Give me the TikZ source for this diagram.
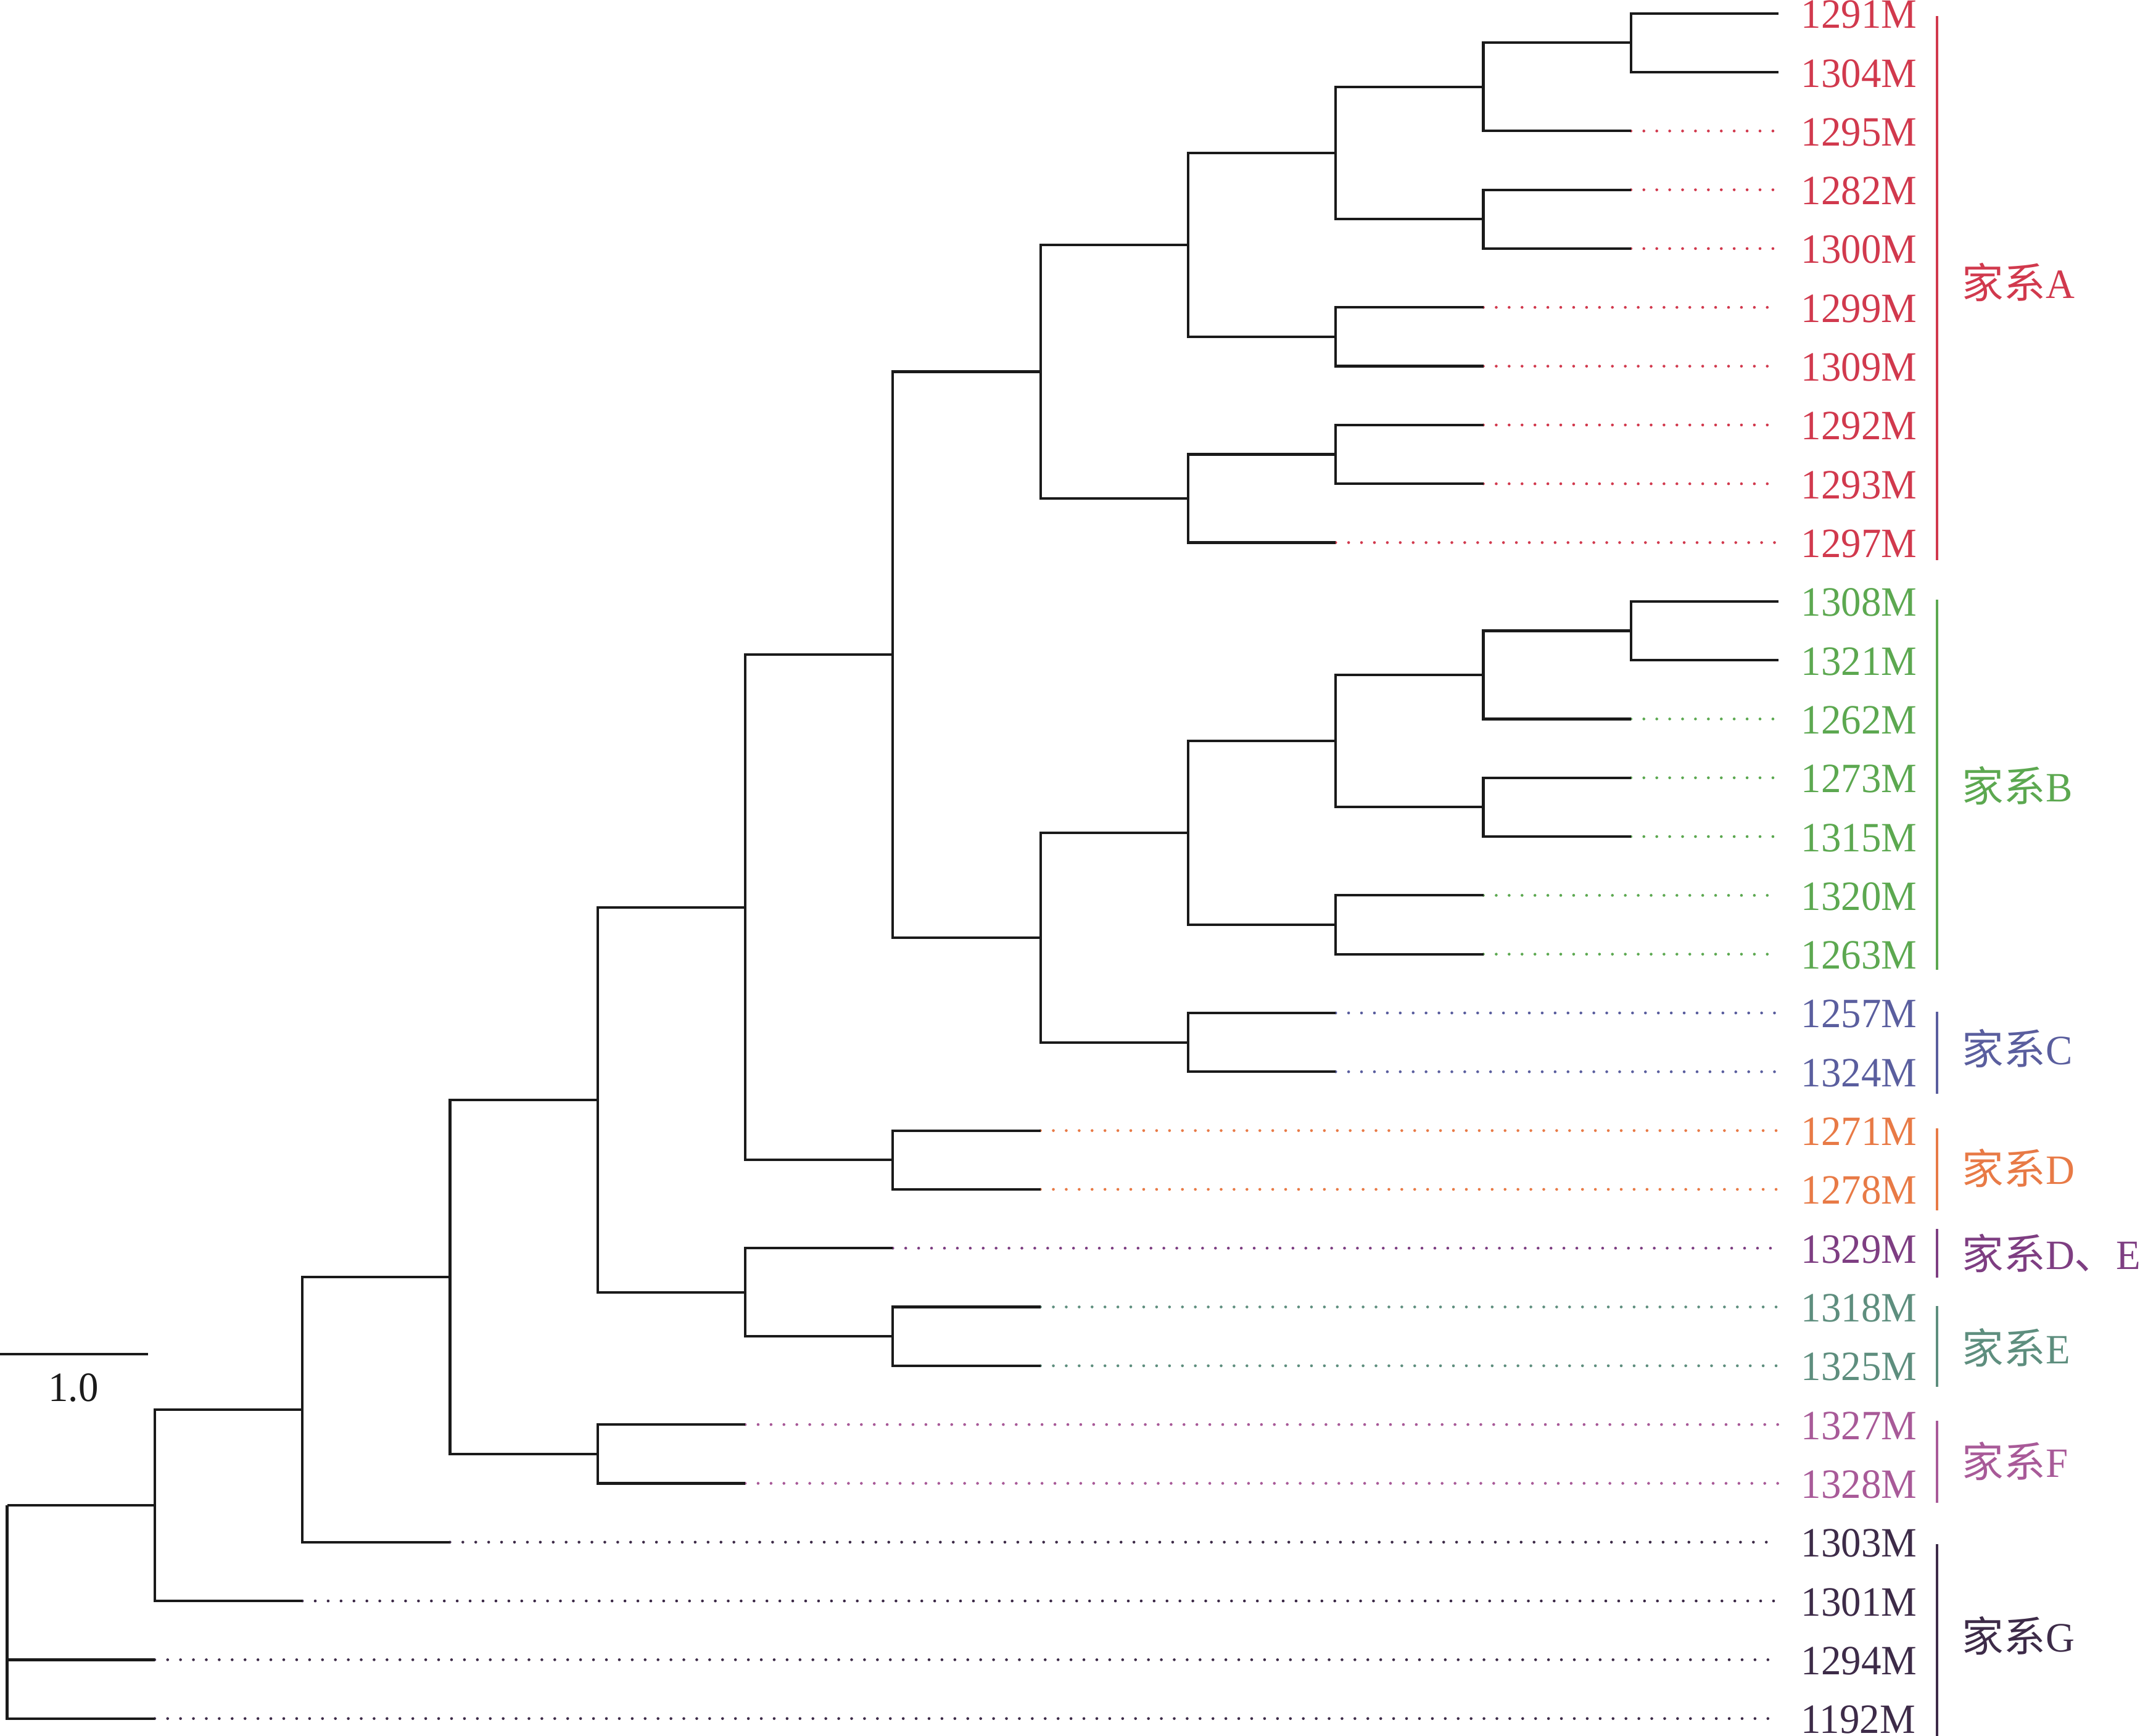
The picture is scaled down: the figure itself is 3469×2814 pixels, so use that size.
\documentclass[tikz,border=0pt]{standalone}
\usepackage{fontspec}
\setmainfont{Liberation Serif}[FakeStretch=0.96]
\newfontfamily\cjk{Noto Sans CJK SC}
\newcommand\labfont{\fontsize{16.9}{20}\selectfont}
\definecolor{ink}{HTML}{1A1A1A}
\definecolor{cA}{HTML}{D1394D}
\definecolor{cB}{HTML}{5CA850}
\definecolor{cC}{HTML}{5A5E9E}
\definecolor{cD}{HTML}{E87A46}
\definecolor{cDE}{HTML}{7E3E82}
\definecolor{cE}{HTML}{5E8E7E}
\definecolor{cF}{HTML}{A85A98}
\definecolor{cG}{HTML}{3D2B48}
\begin{document}
\begin{tikzpicture}[x=0.25pt,y=-0.25pt,
  declare function={lx(\l)=11.5+239.3*\l; ly(\i)=21.7+95.31*\i;},
  branch/.style={draw=ink,line width=1.05pt},
  dotline/.style={line width=1.15pt,line cap=round,dash pattern=on 0pt off 5.23pt},
  leaflabel/.style={anchor=base west,inner sep=0pt,font=\labfont},
  grouplabel/.style={anchor=base west,inner sep=0pt,font=\labfont},
  groupbar/.style={line width=0.9pt}]
\useasboundingbox (0,0) rectangle (3469,2814);

% leaves: index / label / colour / level of parent
\foreach \i/\t/\c/\p in {
  0/1291M/cA/11, 1/1304M/cA/11, 2/1295M/cA/10, 3/1282M/cA/10, 4/1300M/cA/10,
  5/1299M/cA/9, 6/1309M/cA/9, 7/1292M/cA/9, 8/1293M/cA/9, 9/1297M/cA/8,
  10/1308M/cB/11, 11/1321M/cB/11, 12/1262M/cB/10, 13/1273M/cB/10, 14/1315M/cB/10,
  15/1320M/cB/9, 16/1263M/cB/9, 17/1257M/cC/8, 18/1324M/cC/8,
  19/1271M/cD/6, 20/1278M/cD/6, 21/1329M/cDE/5, 22/1318M/cE/6, 23/1325M/cE/6,
  24/1327M/cF/4, 25/1328M/cF/4, 26/1303M/cG/2, 27/1301M/cG/1, 28/1294M/cG/0, 29/1192M/cG/0} {
  \coordinate (L\i) at ({lx(12)},{ly(\i)});
  \pgfmathtruncatemacro\q{\p+1}
  \coordinate (E\i) at ({lx(\q)},{ly(\i)});
  \ifnum\p<11 \draw[dotline,\c] (E\i) -- (L\i); \fi
  \node[leaflabel,text=\c] (T\i) at (2919,{ly(\i)+24}) {\t};
}

% internal nodes
\coordinate (a1)   at ({lx(11)},{ly(0.5)});
\coordinate (a2)   at ({lx(10)},{ly(1.25)});
\coordinate (a3)   at ({lx(10)},{ly(3.5)});
\coordinate (a4)   at ({lx(9)},{ly(2.375)});
\coordinate (a5)   at ({lx(9)},{ly(5.5)});
\coordinate (a6)   at ({lx(8)},{ly(3.9375)});
\coordinate (a7)   at ({lx(9)},{ly(7.5)});
\coordinate (a8)   at ({lx(8)},{ly(8.25)});
\coordinate (nA)   at ({lx(7)},{ly(6.09375)});
\coordinate (b1)   at ({lx(11)},{ly(10.5)});
\coordinate (b2)   at ({lx(10)},{ly(11.25)});
\coordinate (b3)   at ({lx(10)},{ly(13.5)});
\coordinate (b4)   at ({lx(9)},{ly(12.375)});
\coordinate (b5)   at ({lx(9)},{ly(15.5)});
\coordinate (b6)   at ({lx(8)},{ly(13.9375)});
\coordinate (nc)   at ({lx(8)},{ly(17.5)});
\coordinate (bc)   at ({lx(7)},{ly(15.71875)});
\coordinate (abc)  at ({lx(6)},{ly(10.90625)});
\coordinate (nd)   at ({lx(6)},{ly(19.5)});
\coordinate (abcd) at ({lx(5)},{ly(15.203125)});
\coordinate (ne)   at ({lx(6)},{ly(22.5)});
\coordinate (de)   at ({lx(5)},{ly(21.75)});
\coordinate (n5)   at ({lx(4)},{ly(18.4765625)});
\coordinate (nf)   at ({lx(4)},{ly(24.5)});
\coordinate (n6)   at ({lx(3)},{ly(21.48828125)});
\coordinate (n7)   at ({lx(2)},{ly(23.744140625)});
\coordinate (n8)   at ({lx(1)},{ly(25.3720703)});
\coordinate (root) at ({lx(0)},{ly(25.3720703)});

% branches
\draw[branch]
  (a1) |- (E0)  (a1) |- (E1)
  (a2) |- (a1)  (a2) |- (E2)
  (a3) |- (E3)  (a3) |- (E4)
  (a4) |- (a2)  (a4) |- (a3)
  (a5) |- (E5)  (a5) |- (E6)
  (a6) |- (a4)  (a6) |- (a5)
  (a7) |- (E7)  (a7) |- (E8)
  (a8) |- (a7)  (a8) |- (E9)
  (nA) |- (a6)  (nA) |- (a8)
  (b1) |- (E10) (b1) |- (E11)
  (b2) |- (b1)  (b2) |- (E12)
  (b3) |- (E13) (b3) |- (E14)
  (b4) |- (b2)  (b4) |- (b3)
  (b5) |- (E15) (b5) |- (E16)
  (b6) |- (b4)  (b6) |- (b5)
  (nc) |- (E17) (nc) |- (E18)
  (bc) |- (b6)  (bc) |- (nc)
  (abc) |- (nA) (abc) |- (bc)
  (nd) |- (E19) (nd) |- (E20)
  (abcd) |- (abc) (abcd) |- (nd)
  (ne) |- (E22) (ne) |- (E23)
  (de) |- (E21) (de) |- (ne)
  (n5) |- (abcd) (n5) |- (de)
  (nf) |- (E24) (nf) |- (E25)
  (n6) |- (n5)  (n6) |- (nf)
  (n7) |- (n6)  (n7) |- (E26)
  (n8) |- (n7)  (n8) |- (E27)
  (root) -- (n8) (root) |- (E28) (root) |- (E29);

% group bars
\coordinate (gAt) at (3140,26);   \coordinate (gAb) at (3140,908);
\coordinate (gBt) at (3140,972);  \coordinate (gBb) at (3140,1572);
\coordinate (gCt) at (3140,1640); \coordinate (gCb) at (3140,1773);
\coordinate (gDt) at (3140,1829); \coordinate (gDb) at (3140,1962);
\coordinate (gXt) at (3140,1992); \coordinate (gXb) at (3140,2071);
\coordinate (gEt) at (3140,2117); \coordinate (gEb) at (3140,2248);
\coordinate (gFt) at (3140,2303); \coordinate (gFb) at (3140,2436);
\coordinate (gGt) at (3140,2503); \coordinate (gGb) at (3140,2814);
\draw[groupbar,cA] (gAt) -- (gAb);
\draw[groupbar,cB] (gBt) -- (gBb);
\draw[groupbar,cC] (gCt) -- (gCb);
\draw[groupbar,cD] (gDt) -- (gDb);
\draw[groupbar,cDE] (gXt) -- (gXb);
\draw[groupbar,cE] (gEt) -- (gEb);
\draw[groupbar,cF] (gFt) -- (gFb);
\draw[groupbar,cG] (gGt) -- (gGb);

% group labels
\node[grouplabel,text=cA]  (GA) at (3180,484)  {{\cjk 家系}A};
\node[grouplabel,text=cB]  (GB) at (3180,1299) {{\cjk 家系}B};
\node[grouplabel,text=cC]  (GC) at (3180,1725) {{\cjk 家系}C};
\node[grouplabel,text=cD]  (GD) at (3180,1919) {{\cjk 家系}D};
\node[grouplabel,text=cDE] (GX) at (3180,2057) {{\cjk 家系}D{\cjk 、}E};
\node[grouplabel,text=cE]  (GE) at (3180,2210) {{\cjk 家系}E};
\node[grouplabel,text=cF]  (GF) at (3180,2394) {{\cjk 家系}F};
\node[grouplabel,text=cG]  (GG) at (3180,2677) {{\cjk 家系}G};

% scale bar
\coordinate (s0) at (0,2195);
\coordinate (s1) at (240,2195);
\draw[draw=ink,line width=0.9pt] (s0) -- (s1);
\node[anchor=base,inner sep=0pt,font=\labfont,text=ink] (sl) at (119,2271) {1.0};
\end{tikzpicture}
\end{document}
